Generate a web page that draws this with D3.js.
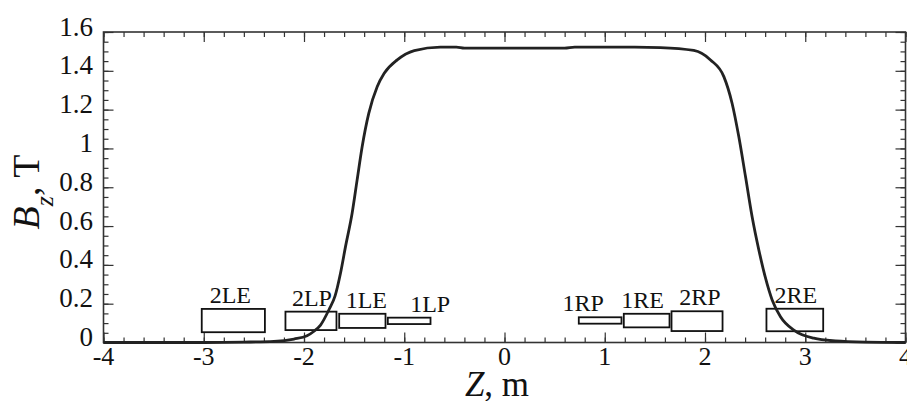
<!DOCTYPE html>
<html>
<head>
<meta charset="utf-8">
<script src="https://cdn.jsdelivr.net/npm/d3@7"></script>
<style>
  html, body { margin: 0; padding: 0; background: #fff; }
  svg { display: block; }
  svg text { font-family: 'Liberation Serif', 'Times New Roman', Times, serif; }
</style>
</head>
<body>
<svg id="chart" width="907" height="401"></svg>
<script>
// 磁場分佈 Bz(Z)
const zVals = [-4, -3.0, -2.6, -2.3, -2.1, -1.97, -1.9, -1.835, -1.75, -1.69, -1.636, -1.586,
  -1.52, -1.47, -1.42, -1.354, -1.27, -1.2, -1.07, -0.9, -0.64, -0.48, -0.4, 0.6, 0.7,
  1.3, 1.556, 1.888, 2.055, 2.188, 2.27, 2.337, 2.404, 2.47, 2.537, 2.6, 2.67, 2.753, 2.886,
  3.085, 3.3, 3.6, 4];
const bVals = [0, 0.0, 0.002, 0.006, 0.018, 0.035, 0.058, 0.09, 0.17, 0.24, 0.357, 0.494,
  0.666, 0.838, 1.009, 1.181, 1.318, 1.387, 1.456, 1.504, 1.522, 1.522, 1.517, 1.517, 1.522,
  1.522, 1.52, 1.505, 1.456, 1.37, 1.233, 1.061, 0.855, 0.648, 0.477, 0.339, 0.219, 0.133, 0.064,
  0.022, 0.008, 0.002, 0];

// 磁鐵區塊（Z 範圍 / B 高度範圍）
const magnetNames = ['2LE', '2LP', '1LE', '1LP', '1RP', '1RE', '2RP', '2RE'];
const magnetZ0 = [-3.02, -2.185, -1.649, -1.164, 0.741, 1.19, 1.666, 2.613];
const magnetZ1 = [-2.39, -1.676, -1.187, -0.738, 1.167, 1.646, 2.175, 3.179];
const magnetB0 = [0.053, 0.064, 0.075, 0.095, 0.097, 0.078, 0.059, 0.058];
const magnetB1 = [0.173, 0.159, 0.148, 0.128, 0.130, 0.148, 0.161, 0.174];
const labelShiftZ = [-0.03, 0.01, 0.04, 0.21, -0.17, -0.04, 0.03, 0.01];

const xTicks = [-4, -3, -2, -1, 0, 1, 2, 3, 4];
const yTicks = [0, 0.2, 0.4, 0.6, 0.8, 1, 1.2, 1.4, 1.6];

const FONT = "'Liberation Serif', 'Times New Roman', Times, serif";
const svg = d3.select('#chart');
const x = d3.scaleLinear().domain([-4, 4]).range([103.5, 905.5]);
const y = d3.scaleLinear().domain([0, 1.6]).range([342.5, 32]);

const axisColor = '#333';
const minorX = d3.range(-40, 41, 2).map((d) => d / 10);
const minorY = d3.range(0, 33).map((d) => d * 0.05);

// 軸線與刻度（四邊，刻度朝內）
function ticksLayer(axis, vals, size) {
  return (g) => g.call(axis.tickValues(vals).tickSize(size).tickFormat(''))
    .call((s) => s.select('.domain').remove())
    .call((s) => s.selectAll('line').attr('stroke', axisColor).attr('stroke-width', 1.2));
}
svg.append('g').attr('transform', `translate(0,${y(0)})`).call(ticksLayer(d3.axisTop(x), minorX, 5));
svg.append('g').attr('transform', `translate(0,${y(0)})`).call(ticksLayer(d3.axisTop(x), xTicks, 10));
svg.append('g').attr('transform', `translate(0,${y(1.6)})`).call(ticksLayer(d3.axisBottom(x), minorX, 5));
svg.append('g').attr('transform', `translate(0,${y(1.6)})`).call(ticksLayer(d3.axisBottom(x), xTicks, 10));
svg.append('g').attr('transform', `translate(${x(-4)},0)`).call(ticksLayer(d3.axisRight(y), minorY, 5));
svg.append('g').attr('transform', `translate(${x(-4)},0)`).call(ticksLayer(d3.axisRight(y), yTicks, 10));
svg.append('g').attr('transform', `translate(${x(4)},0)`).call(ticksLayer(d3.axisLeft(y), minorY, 5));
svg.append('g').attr('transform', `translate(${x(4)},0)`).call(ticksLayer(d3.axisLeft(y), yTicks, 10));

svg.append('rect')
  .attr('x', x(-4)).attr('y', y(1.6))
  .attr('width', x(4) - x(-4)).attr('height', y(0) - y(1.6))
  .attr('fill', 'none').attr('stroke', axisColor).attr('stroke-width', 1.6);

// 刻度標籤
svg.append('g').selectAll('text').data(xTicks).join('text')
  .attr('x', (d) => x(d)).attr('y', 365)
  .attr('text-anchor', 'middle').attr('font-family', FONT).attr('font-size', 26).attr('fill', '#111')
  .text((d) => String(d));
svg.append('g').selectAll('text').data(yTicks).join('text')
  .attr('x', 93).attr('y', (d) => y(d) + 3.5)
  .attr('text-anchor', 'end').attr('font-family', FONT).attr('font-size', 27).attr('fill', '#111')
  .text((d) => d3.format('~g')(d));

// 軸標題
svg.append('text')
  .attr('x', 497).attr('y', 396)
  .attr('text-anchor', 'middle').attr('font-family', FONT).attr('font-size', 35).attr('fill', '#111')
  .call((t) => {
    t.append('tspan').attr('font-style', 'italic').text('Z');
    t.append('tspan').text(', m');
  });
svg.append('text')
  .attr('transform', 'translate(39,192) rotate(-90)')
  .attr('text-anchor', 'middle').attr('font-family', FONT).attr('font-size', 38).attr('fill', '#111')
  .call((t) => {
    t.append('tspan').attr('font-style', 'italic').text('B');
    t.append('tspan').attr('font-style', 'italic').attr('font-size', 26).attr('dy', 14).text('z');
    t.append('tspan').attr('dy', -14).text(', T');
  });

// 磁鐵方框與標籤
const mIdx = d3.range(magnetNames.length);
svg.append('g').selectAll('rect').data(mIdx).join('rect')
  .attr('x', (i) => x(magnetZ0[i])).attr('y', (i) => y(magnetB1[i]))
  .attr('width', (i) => x(magnetZ1[i]) - x(magnetZ0[i]))
  .attr('height', (i) => y(magnetB0[i]) - y(magnetB1[i]))
  .attr('fill', 'none').attr('stroke', '#111').attr('stroke-width', 1.8);
svg.append('g').selectAll('text').data(mIdx).join('text')
  .attr('x', (i) => x((magnetZ0[i] + magnetZ1[i]) / 2 + labelShiftZ[i]))
  .attr('y', (i) => y(magnetB1[i]) - 6)
  .attr('text-anchor', 'middle').attr('font-family', FONT).attr('font-size', 24).attr('fill', '#111')
  .text((i) => magnetNames[i]);

// 曲線
const line = d3.line()
  .x((i) => x(zVals[i])).y((i) => y(bVals[i]))
  .curve(d3.curveMonotoneX);
svg.append('path')
  .datum(d3.range(zVals.length))
  .attr('d', line)
  .attr('fill', 'none').attr('stroke', '#222').attr('stroke-width', 2.8)
  .attr('stroke-linejoin', 'round');
</script>
</body>
</html>
